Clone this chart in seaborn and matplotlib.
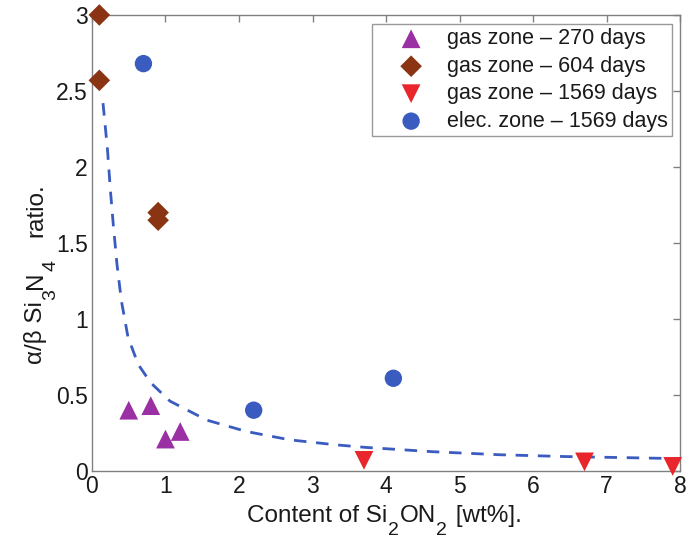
import matplotlib
matplotlib.use("Agg")
import matplotlib.pyplot as plt
import seaborn as sns
import pandas as pd

sns.set_theme(style="white")
plt.rcParams["font.family"] = ["Liberation Sans", "DejaVu Sans"]

# Measured alpha/beta Si3N4 ratio against Si2ON2 content
gas270_x = [0.5, 0.8, 1.0, 1.2]
gas270_y = [0.40, 0.43, 0.21, 0.26]

gas604_x = [0.1, 0.1, 0.9, 0.9]
gas604_y = [3.00, 2.57, 1.70, 1.65]

gas1569_x = [3.7, 6.7, 7.9]
gas1569_y = [0.07, 0.06, 0.03]

elec1569_x = [0.7, 2.2, 4.1]
elec1569_y = [2.68, 0.40, 0.61]

# Trend curve through the data
trend_x = [0.15, 0.21, 0.25, 0.29, 0.34, 0.40, 0.49, 0.63, 0.80, 1.06,
           1.56, 2.10, 2.69, 3.32, 3.73, 4.63, 5.54, 6.44, 7.35, 8.0]
trend_y = [2.42, 2.12, 1.85, 1.62, 1.36, 1.12, 0.88, 0.70, 0.58, 0.46,
           0.335, 0.26, 0.205, 0.172, 0.155, 0.127, 0.107, 0.095, 0.087, 0.081]

labels = ["gas zone \u2013 270 days", "gas zone \u2013 604 days",
          "gas zone \u2013 1569 days", "elec. zone \u2013 1569 days"]

TEXT = "#1a1a1a"
MAIN_FS = 17.5
SUB_FS = 14
SUB_DROP = 9.5   # points below the main baseline

fig = plt.figure(figsize=(6.89, 5.41), dpi=100)
ax = fig.add_axes([0.1335, 0.1294, 0.8535, 0.8429])

sns.lineplot(x=trend_x, y=trend_y, ax=ax, sort=False, estimator=None,
             color="#3a5bbf", lw=2.0, dashes=False, legend=False,
             linestyle=(0, (4.5, 3.5)))

series = [
    (gas270_x, gas270_y, "^", "#9b2fa4", 13.5),
    (gas604_x, gas604_y, "D", "#8a3414", 11),
    (gas1569_x, gas1569_y, "v", "#e8262b", 13.5),
    (elec1569_x, elec1569_y, "o", "#3a5bbf", 12.5),
]
for (xs, ys, mk, col, ms), lab in zip(series, labels):
    df = pd.DataFrame({"x": xs, "y": ys})
    sns.scatterplot(data=df, x="x", y="y", ax=ax, marker=mk, color=col,
                    s=ms ** 2, edgecolor="none", label=lab, clip_on=False,
                    zorder=5)

ax.set_xlim(0, 8)
ax.set_ylim(0, 3)
ax.set_xticks(range(0, 9))
ax.set_yticks([0, 0.5, 1, 1.5, 2, 2.5, 3])
ax.set_yticklabels(["0", "0.5", "1", "1.5", "2", "2.5", "3"])
ax.set_xlabel("")
ax.set_ylabel("")

for side in ["top", "right", "bottom", "left"]:
    ax.spines[side].set_visible(True)
    ax.spines[side].set_color("#808080")
    ax.spines[side].set_linewidth(1.0)
ax.tick_params(direction="in", length=5, width=1, color="#808080",
               labelsize=16.5, top=True, right=True, pad=3,
               labelcolor=TEXT)


def chained_label(pieces, start, vertical=False):
    """Write a label piece by piece so subscripts sit well below the baseline."""
    prev = None
    for text, is_sub, gap in pieces:
        fs = SUB_FS if is_sub else MAIN_FS
        drop = SUB_DROP if is_sub else 0
        if vertical:
            if prev is None:
                xy, coords = start, "figure fraction"
            else:
                xy, coords = (start[0], 1), ("figure fraction", prev)
            offset = (drop, gap)
            rot = 90
        else:
            if prev is None:
                xy, coords = start, "figure fraction"
            else:
                xy, coords = (1, start[1]), (prev, "figure fraction")
            offset = (gap, -drop)
            rot = 0
        prev = ax.annotate(text, xy=xy, xycoords=coords, xytext=offset,
                           textcoords="offset points", fontsize=fs,
                           color=TEXT, ha="left", va="baseline",
                           rotation=rot, rotation_mode="anchor",
                           annotation_clip=False)
        fig.canvas.draw()


# x axis title: Content of Si2ON2 [wt%].
chained_label([("Content of Si", False, 0), ("2", True, 0.5),
               ("ON", False, 0.5), ("2", True, 0.5), (" [wt%].", False, 1.5)],
              start=(247 / 689, 1 - 522 / 541))

# y axis title: alpha/beta Si3N4 ratio.
chained_label([("\u03b1/\u03b2 Si", False, 0), ("3", True, 0.5),
               ("N", False, 0.5), ("4", True, 0.5), ("ratio.", False, 16)],
              start=(42 / 689, 1 - 364 / 541), vertical=True)

leg = ax.legend(loc="upper right", bbox_to_anchor=(0.986, 0.98),
                borderaxespad=0, fontsize=15.5, frameon=True, fancybox=False,
                edgecolor="#808080", handletextpad=0.05, borderpad=0.2,
                labelspacing=0.3, handlelength=3.2, markerscale=1.0)
leg.get_frame().set_linewidth(1.0)
for t in leg.get_texts():
    t.set_color(TEXT)

fig.savefig("out.png", dpi=100)
